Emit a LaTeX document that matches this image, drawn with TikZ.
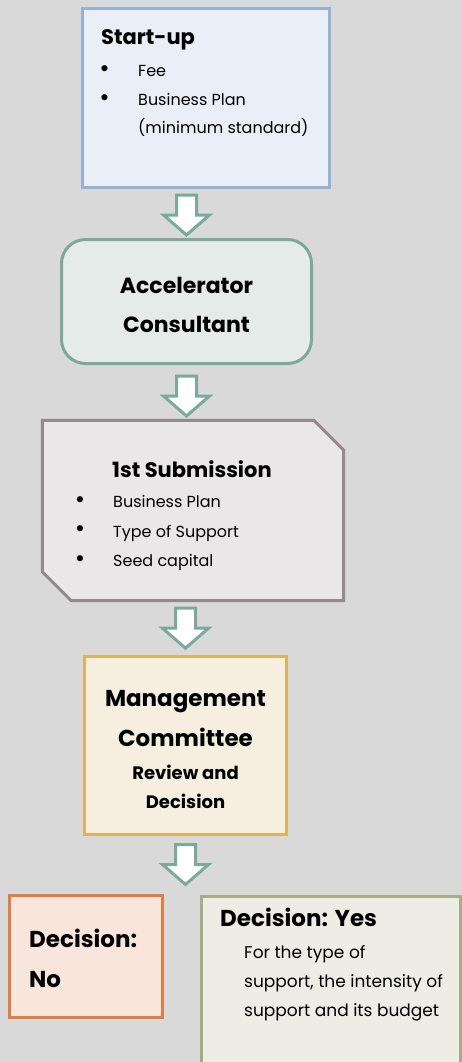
\documentclass[tikz,border=0pt]{standalone}
\usepackage{fontspec}
\setmainfont{Poppins}
\newfontfamily\dv{DejaVu Sans}
\usetikzlibrary{calc}
\definecolor{bgc}{HTML}{D9D9D9}
\definecolor{suB}{HTML}{95B3D7}\definecolor{suF}{HTML}{EAEFF7}
\definecolor{acB}{HTML}{7EA99A}\definecolor{acF}{HTML}{E4EBE8}
\definecolor{smB}{HTML}{948A8B}\definecolor{smF}{HTML}{E9E7E8}
\definecolor{mgB}{HTML}{DCB35E}\definecolor{mgF}{HTML}{F6EFE0}
\definecolor{noB}{HTML}{E07D45}\definecolor{noF}{HTML}{F8E5DB}
\definecolor{yeB}{HTML}{A5AF81}\definecolor{yeF}{HTML}{EDEDE5}
\definecolor{arB}{HTML}{7BAA9C}
\tikzset{
  box/.style={draw, line width=3pt, inner sep=0pt},
  txt/.style={anchor=base west, inner sep=0pt, font=\fontsize{16}{19}\selectfont},
  bul/.style={anchor=base, inner sep=0pt, font=\dv\fontsize{21}{23}\selectfont},
  ctxt/.style={anchor=base, inner sep=0pt},
  head/.style={anchor=base west, inner sep=0pt},
  barrow/.pic={\draw[draw=arB, fill=white, line width=3pt, miter limit=10]
     (-10,0) -- (10,0) -- (10,20) -- (23,20) -- (0,40) -- (-23,20) -- (-10,20) -- cycle;}
}
\begin{document}
\begin{tikzpicture}[x=1pt,y=-1pt]
\useasboundingbox (0,0) rectangle (462,1062);
\clip (0,0) rectangle (462,1062);
\fill[bgc] (0,0) rectangle (462,1062);
% boxes
\node[box, draw=suB, fill=suF, minimum width=247pt, minimum height=179pt] (startup) at (206,98) {};
\node[box, draw=acB, fill=acF, rounded corners=24pt, minimum width=250pt, minimum height=124pt] (accel) at (186.5,301.5) {};
\node[inner sep=0pt, minimum width=301pt, minimum height=180pt] (sub) at (193,510.5) {};
\draw[draw=smB, fill=smF, line width=3pt]
  (sub.north west) -- ($(sub.north east)+(-30,0)$) -- ($(sub.north east)+(0,30)$)
  -- (sub.south east) -- ($(sub.south west)+(29,0)$) -- ($(sub.south west)+(0,-29)$) -- cycle;
\node[box, draw=mgB, fill=mgF, minimum width=202pt, minimum height=178pt] (mgmt) at (185.5,745.5) {};
\node[box, draw=noB, fill=noF, minimum width=153pt, minimum height=122pt] (no) at (86,956.5) {};
\node[box, draw=yeB, fill=yeF, minimum width=259pt, minimum height=200pt] (yes) at (331,996.5) {};
% arrows
\pic at ($(startup.south -| accel.north)+(0,6)$) {barrow};
\pic at ($(accel.south)+(0,11)$) {barrow};
\pic at ($(sub.south -| mgmt.north)+(0,7.5)$) {barrow};
\pic at ($(mgmt.south)+(0,8.5)$) {barrow};
% start-up text
\node[head, font=\bfseries\fontsize{21}{24}\selectfont] (suT) at (101,44.5) {Start-up};
\node[bul] (suB1) at (104.5,77) {•};
\node[txt] (su1) at (138,76.7) {Fee};
\node[bul] (suB2) at (104.5,106) {•};
\node[txt] (su2) at (138,106) {Business Plan};
\node[txt] (su3) at (138,134) {(minimum standard)};
% accelerator
\node[ctxt, font=\bfseries\fontsize{22}{26}\selectfont] (acT1) at (186.5,293) {Accelerator};
\node[ctxt, font=\bfseries\fontsize{22}{26}\selectfont] (acT2) at (186.5,332) {Consultant};
% submission
\node[head, font=\bfseries\fontsize{21}{24}\selectfont] (smT) at (112,477) {1st Submission};
\node[bul] (smB1) at (80,507.5) {•};
\node[txt] (sm1) at (113,507) {Business Plan};
\node[bul] (smB2) at (80,536.5) {•};
\node[txt] (sm2) at (113,537) {Type of Support};
\node[bul] (smB3) at (80,566.5) {•};
\node[txt] (sm3) at (113,566) {Seed capital};
% management
\node[ctxt, font=\bfseries\fontsize{23}{26}\selectfont] (mgT1) at (185.5,706) {Management};
\node[ctxt, font=\bfseries\fontsize{23}{26}\selectfont] (mgT2) at (185.5,746) {Committee};
\node[ctxt, font=\bfseries\fontsize{18}{21}\selectfont] (mgT3) at (185.5,779) {Review and};
\node[ctxt, font=\bfseries\fontsize{18}{21}\selectfont] (mgT4) at (185.5,808) {Decision};
% no
\node[head, font=\bfseries\fontsize{23}{26}\selectfont] (noT1) at (29,947) {Decision:};
\node[head, font=\bfseries\fontsize{23}{26}\selectfont] (noT2) at (29,987) {No};
% yes
\node[head, font=\bfseries\fontsize{23}{26}\selectfont] (yeT) at (220,926) {Decision: Yes};
\node[txt, font=\fontsize{17}{19}\selectfont] (ye1) at (244,958) {For the type of};
\node[txt, font=\fontsize{17}{19}\selectfont] (ye2) at (244,987) {support, the intensity of};
\node[txt, font=\fontsize{17}{19}\selectfont] (ye3) at (244,1016) {support and its budget};
\end{tikzpicture}
\end{document}
